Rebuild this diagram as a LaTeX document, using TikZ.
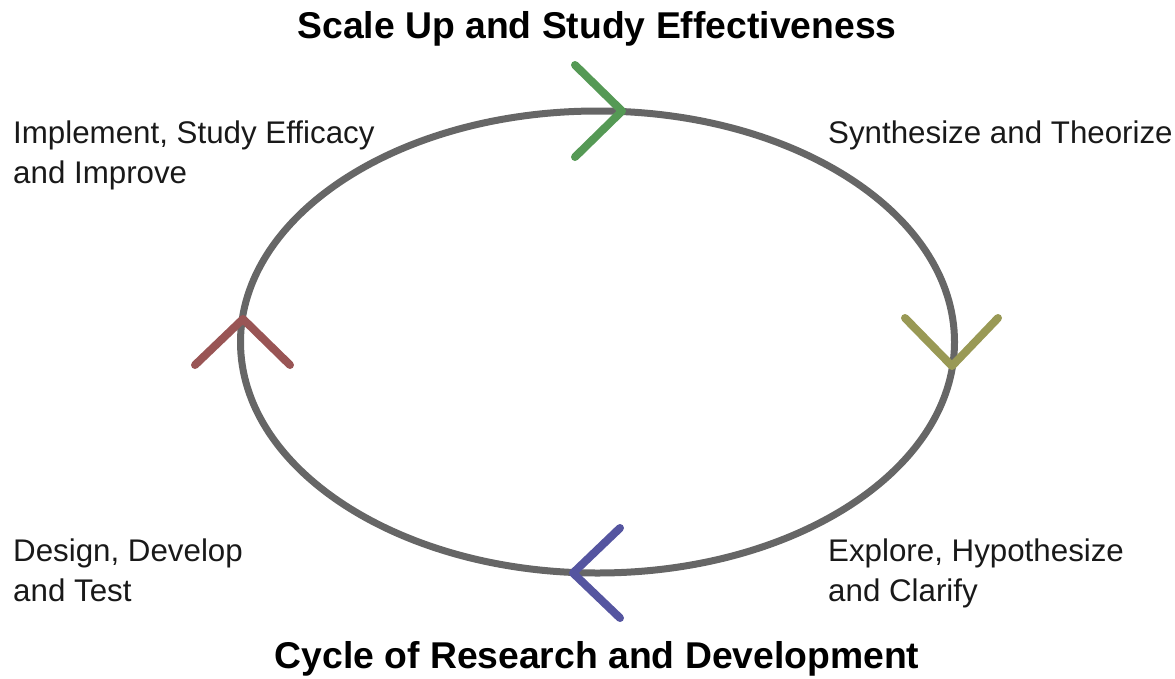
\documentclass[tikz,border=0pt]{standalone}
\usepackage{fontspec}
\setmainfont{Liberation Sans}
\definecolor{ringgray}{HTML}{666666}
\definecolor{cgreen}{HTML}{559955}
\definecolor{colive}{HTML}{999955}
\definecolor{cred}{HTML}{995555}
\definecolor{cblue}{HTML}{5555A0}
\begin{document}
\begin{tikzpicture}[x=1pt,y=-1pt,
  ring/.style={draw=ringgray,line width=7pt},
  chev/.style={line width=8pt,line cap=round,line join=round},
  lbl/.style={anchor=north west,inner sep=0pt,align=left,font=\fontsize{31.3}{40}\selectfont,text=black!90},
  ttl/.style={anchor=base,inner sep=0pt,font=\fontsize{37.3}{40}\selectfont\bfseries}]
\useasboundingbox (0,0) rectangle (1175,678);
\draw[ring] (597.5,342) ellipse [x radius=357, y radius=231];
\draw[chev,cgreen] (575,65) -- (622,111) -- (575,157);
\draw[chev,colive] (905,318) -- (952,366) -- (998,318);
\draw[chev,cblue] (620,528) -- (573,573) -- (620,618);
\draw[chev,cred] (195,365) -- (243,319) -- (290,365);
\node[ttl] (top) at (597,38) {Scale Up and Study Effectiveness};
\node[ttl] (bot) at (597,668) {Cycle of Research and Development};
\node[lbl] (impl) at (13,121) {Implement, Study Efficacy\\and Improve};
\node[lbl] (synth) at (828,121) {Synthesize and Theorize};
\node[lbl] (design) at (13,539) {Design, Develop\\and Test};
\node[lbl] (explore) at (828,539) {Explore, Hypothesize\\and Clarify};
\end{tikzpicture}
\end{document}
